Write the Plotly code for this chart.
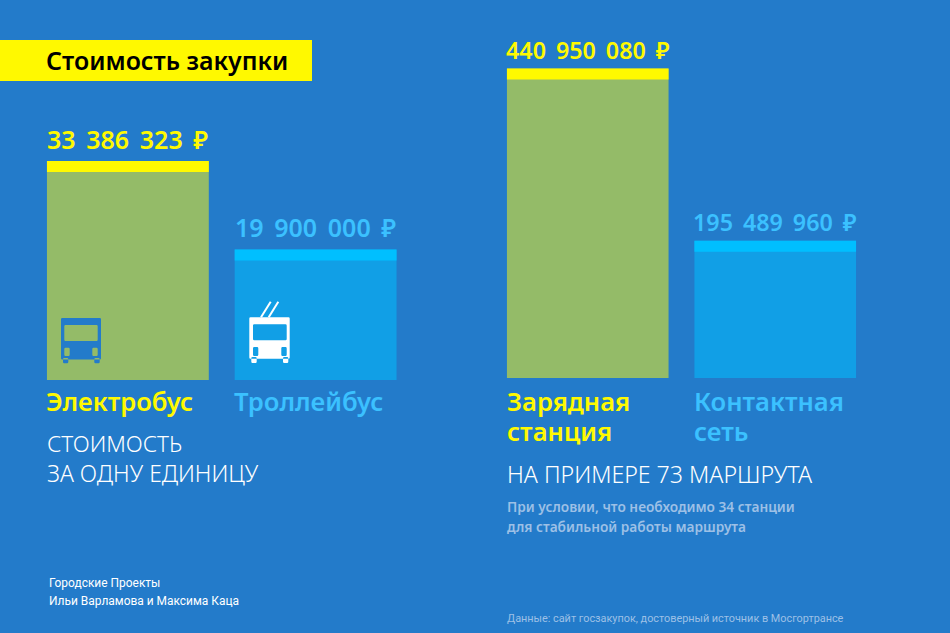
import plotly.graph_objects as go
from plotly.subplots import make_subplots

WIDTH = 950
HEIGHT = 633
FONT = 'Noto Sans'
THIN = 'Roboto'

# values from the picture
unit_names = ['Электробус', 'Троллейбус']
unit_costs = [33386323, 19900000]
route_names = ['Зарядная станция', 'Контактная сеть']
route_costs = [440950080, 195489960]

BG = '#237BCA'
YELLOW = '#FFF900'
GREEN = '#94BB68'
BLUE = '#119FE6'
CYAN = '#00BFFF'
CYAN_TEXT = '#3BC1FF'
PALE = '#9DC0E6'
CAP_PX = 11


def px(x, y):
    return x / WIDTH, 1 - y / HEIGHT


def path(*rects, r=1.2):
    # rects with slightly rounded corners, given in picture pixels
    out = ''
    for x0, y0, x1, y1 in rects:
        pts = [(x0 + r, y0), (x1 - r, y0), (x1, y0), (x1, y0 + r), (x1, y1 - r), (x1, y1),
               (x1 - r, y1), (x0 + r, y1), (x0, y1), (x0, y1 - r), (x0, y0 + r), (x0, y0), (x0 + r, y0)]
        p = [px(*q) for q in pts]
        out += f'M{p[0][0]},{p[0][1]} L{p[1][0]},{p[1][1]} '
        out += f'Q{p[2][0]},{p[2][1]} {p[3][0]},{p[3][1]} L{p[4][0]},{p[4][1]} '
        out += f'Q{p[5][0]},{p[5][1]} {p[6][0]},{p[6][1]} L{p[7][0]},{p[7][1]} '
        out += f'Q{p[8][0]},{p[8][1]} {p[9][0]},{p[9][1]} L{p[10][0]},{p[10][1]} '
        out += f'Q{p[11][0]},{p[11][1]} {p[12][0]},{p[12][1]} Z '
    return out


def money(v):
    # wider gaps between the digit groups, as in the reference
    return f'{v:,}'.replace(',', ' \u2009') + ' \u2009₽'


def label(fig, x, y, text, size, color, weight=400, font=FONT):
    a, b = px(x, y)
    fig.add_annotation(x=a, y=b, xref='paper', yref='paper', text=text, showarrow=False,
                       xanchor='left', yanchor='middle', borderpad=0,
                       font=dict(family=font, size=size, color=color, weight=weight))


def add_bars(fig, col, names, values, colors, caps, text_colors, baseline, scale, domain, yshift, size):
    cap = CAP_PX / scale
    fig.add_trace(go.Bar(x=names, y=values, marker=dict(color=colors, line_width=0), hoverinfo='skip'), row=1, col=col)
    fig.add_trace(go.Bar(x=names, y=[cap] * 2, base=[v - cap for v in values],
                         marker=dict(color=caps, line_width=0), hoverinfo='skip'), row=1, col=col)
    fig.update_xaxes(domain=domain, visible=False, range=[-0.5, 1.5], row=1, col=col)
    fig.update_yaxes(domain=[1 - baseline / HEIGHT, 1], visible=False, range=[0, baseline / scale], row=1, col=col)
    xref = 'x' if col == 1 else 'x2'
    yref = 'y' if col == 1 else 'y2'
    for name, v, c in zip(names, values, text_colors):
        fig.add_annotation(x=name, y=v, xref=xref, yref=yref, text=money(v), showarrow=False,
                           xanchor='center', yanchor='bottom', yshift=yshift,
                           font=dict(family=FONT, size=size, color=c, weight=600))


fig = make_subplots(rows=1, cols=2)
add_bars(fig, 1, unit_names, unit_costs, [GREEN, BLUE], [YELLOW, CYAN], [YELLOW, CYAN_TEXT],
         380, 219 / unit_costs[0], [34 / WIDTH, 409.5 / WIDTH], 3, 25)
add_bars(fig, 2, route_names, route_costs, [GREEN, BLUE], [YELLOW, CYAN], [YELLOW, CYAN_TEXT],
         378, 309.5 / route_costs[0], [494 / WIDTH, 869 / WIDTH], 1, 23.3)

# title plate
x0, y1 = px(0, 40)
x1, y0 = px(312, 81)
fig.add_shape(type='rect', xref='paper', yref='paper', x0=x0, x1=x1, y0=y0, y1=y1, fillcolor=YELLOW, line_width=0)
label(fig, 45, 60, 'Стоимость закупки', 24.9, '#000000', 600)

label(fig, 45, 401.5, 'Электробус', 25.6, YELLOW, 600)
label(fig, 233, 401.5, 'Троллейбус', 25.6, CYAN_TEXT, 600)
label(fig, 506, 401.5, 'Зарядная', 25.6, YELLOW, 600)
label(fig, 506, 431.5, 'станция', 25.6, YELLOW, 600)
label(fig, 693, 401.5, 'Контактная', 25.6, CYAN_TEXT, 600)
label(fig, 693, 431.5, 'сеть', 25.6, CYAN_TEXT, 600)

label(fig, 46, 443.5, 'СТОИМОСТЬ', 22.5, '#FFFFFF', 300)
label(fig, 46, 473.5, 'ЗА ОДНУ ЕДИНИЦУ', 22.9, '#FFFFFF', 300)
label(fig, 506, 473.5, 'НА ПРИМЕРЕ 73 МАРШРУТА', 23.2, '#FFFFFF', 300)
label(fig, 506, 506, 'При условии, что необходимо 34 станции', 13.7, PALE, 600)
label(fig, 506, 526, 'для стабильной работы маршрута', 13.7, PALE, 600)
label(fig, 48, 583, 'Городские Проекты', 11.95, '#FFFFFF', font=THIN)
label(fig, 48, 601, 'Ильи Варламова и Максима Каца', 11.95, '#FFFFFF', font=THIN)
label(fig, 506, 618, 'Данные: сайт госзакупок, достоверный источник в Мосгортрансе', 10.85, PALE, font=THIN)

# bus icon
fig.add_shape(type='path', xref='paper', yref='paper', line_width=0, fillcolor=BG,
              path=path((61, 318, 101, 359.5), (63, 358, 68.3, 363.3), (94.3, 358, 99.7, 363.3)))
fig.add_shape(type='path', xref='paper', yref='paper', line_width=0, fillcolor=GREEN,
              path=path((64.3, 325, 97.7, 341), (64.3, 347.7, 69.7, 356), (92.3, 347.7, 97.7, 356)))

# trolleybus icon
fig.add_shape(type='path', xref='paper', yref='paper', line_width=0, fillcolor='#FFFFFF',
              path=path((249.3, 317.3, 289.7, 358.7), (251.3, 357, 256.7, 363), (283, 357, 288.3, 363)))
fig.add_shape(type='path', xref='paper', yref='paper', line_width=0, fillcolor=BLUE,
              path=path((253, 324.3, 286.7, 340.3), (253, 347, 258.3, 356), (281.3, 347, 286.7, 356)))
for (ax, ay, bx, by) in [(261, 317.3, 270.7, 301.7), (268.7, 317.3, 278.3, 301.7)]:
    a, b = px(ax, ay)
    c, d = px(bx, by)
    fig.add_shape(type='line', xref='paper', yref='paper', x0=a, y0=b, x1=c, y1=d,
                  line=dict(color='#FFFFFF', width=2))

fig.update_layout(width=WIDTH, height=HEIGHT, margin=dict(l=0, r=0, t=0, b=0), paper_bgcolor=BG, plot_bgcolor=BG,
                  showlegend=False, barmode='overlay', bargap=0.138)

fig.write_html("out.html", config={'displayModeBar': False},
               post_script="document.body.style.margin='0';document.body.style.background='" + BG + "';")
